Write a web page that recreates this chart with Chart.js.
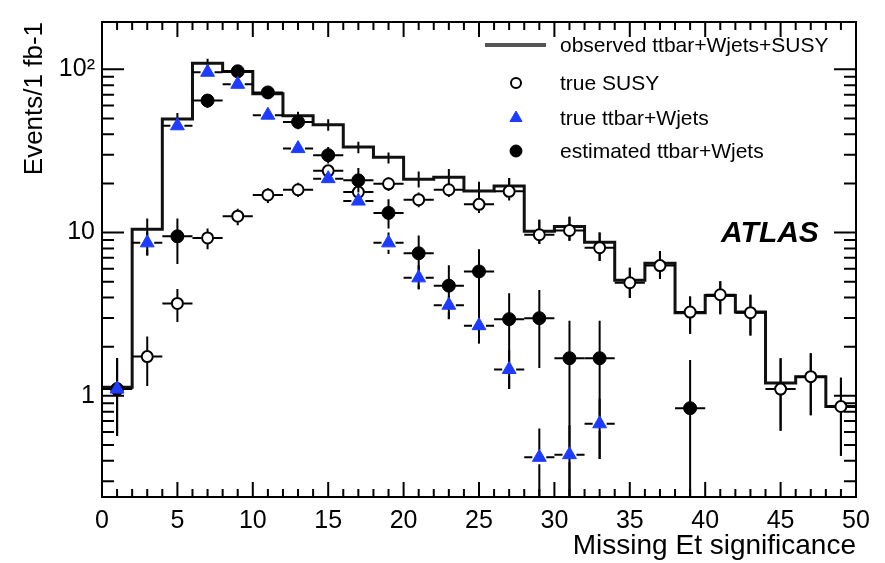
<!DOCTYPE html>
<html>
<head>
<meta charset="utf-8">
<script src="https://cdn.jsdelivr.net/npm/chart.js@4.4.1/dist/chart.umd.min.js"></script>
<style>
  html, body { margin: 0; padding: 0; background: #fff; }
</style>
</head>
<body>
<canvas id="chart" width="885" height="563"></canvas>
<script>
// bin centres of the Missing Et significance histogram (bin width 2)
const binCenters = [1, 3, 5, 7, 9, 11, 13, 15, 17, 19, 21, 23, 25, 27, 29, 31, 33, 35, 37, 39, 41, 43, 45, 47, 49];
const binHalfWidth = 1;

// observed ttbar+Wjets+SUSY (histogram)
const observed   = [1.13, 10.5, 49.6, 109, 97, 71, 52, 45.7, 33.4, 28.9, 21.2, 21.8, 18.0, 19.3, 10.2, 10.9, 8.74, 5.11, 6.49, 3.23, 4.12, 3.26, 1.20, 1.31, 0.86];
const observedHi = [1.7, 12.2, 54, 116, 104, 77, 55, 49.5, 36, 31, 23.7, 24.5, 20.5, 21.6, 12, 12.5, 10, 6.1, 7.7, 4.06, 5.04, 4.16, 1.7, 1.82, 1.29];
const observedLo = [0.57, 7.2, 45, 102, 90, 66, 48.5, 42, 30.6, 26.5, 18.9, 19.7, 15.7, 16.5, 8.5, 8.9, 6.7, 3.97, 5.2, 2.4, 3.16, 2.34, 0.61, 0.76, 0.43];

// true SUSY (open circles)
const trueSusy   = [null, 1.74, 3.68, 9.27, 12.6, 17.0, 18.3, 23.9, 17.7, 19.9, 15.9, 18.3, 14.9, 17.9, 9.7, 10.3, 8.08, 4.93, 6.28, 3.26, 4.16, 3.23, 1.10, 1.31, 0.86];
const trueSusyHi = [null, 2.31, 4.52, 10.6, 14.0, 18.7, 20.2, 26, 19.5, 21.8, 17.6, 20.1, 16.5, 21.6, 12, 12.5, 10, 6.1, 7.7, 4.06, 5.04, 4.16, 1.7, 1.82, 1.29];
const trueSusyLo = [null, 1.15, 2.83, 7.9, 11.1, 15.2, 16.5, 21.8, 16, 18, 14.3, 16.5, 13.2, 15.7, 8.5, 8.9, 6.7, 3.97, 5.2, 2.4, 3.16, 2.34, 0.61, 0.76, 0.43];

// true ttbar+Wjets (blue triangles)
const trueTtbar   = [1.10, 8.65, 45.1, 96, 81, 52.4, 32.7, 21.4, 15.6, 8.65, 5.28, 3.59, 2.69, 1.45, 0.42, 0.436, 0.674, null, null, null, null, null, null, null, null];
const trueTtbarHi = [1.7, 10, 49, 102, 86, 56, 35, 23, 17.2, 10, 6.3, 4.07, 3.4, 1.9, 0.63, 0.66, 0.96, null, null, null, null, null, null, null, null];
const trueTtbarLo = [0.57, 7.3, 41, 90, 76, 49, 30.5, 19.8, 14.2, 7.4, 4.5, 2.96, 2.1, 1.1, 0.2, 0.2, 0.41, null, null, null, null, null, null, null, null];

// estimated ttbar+Wjets (filled circles)
const estTtbar   = [1.1, null, 9.49, 64.4, 97.3, 72.2, 47.6, 29.8, 20.9, 13.2, 7.47, 4.73, 5.78, 2.95, 2.99, 1.70, 1.70, null, null, 0.84, null, null, null, null, null];
const estTtbarHi = [1.7, null, 12.2, 70, 104, 77, 52, 33.5, 24.9, 16, 9.6, 6.3, 7.9, 4.25, 4.45, 2.88, 2.88, null, null, 1.66, null, null, null, null, null];
const estTtbarLo = [0.57, null, 6.43, 58, 90, 66, 43, 26.5, 17.6, 10.6, 4.5, 2.95, 2.09, 1.1, 1.48, 0.1, 0.41, null, null, 0.1, null, null, null, null, null];

const xTickValues = [0, 5, 10, 15, 20, 25, 30, 35, 40, 45, 50];
const yTickValues = [1, 10, 100];
const yTickLabels = ['1', '10', '10\u00B2'];

const FONT = '"Liberation Sans", Arial, Helvetica, sans-serif';
const BLUE = '#1e3cff';

function points(values) {
    return binCenters.map((c, i) => ({ x: c, y: values[i] }));
}

// histogram drawn as steps through the bin edges
const histPoints = binCenters.map((c, i) => ({ x: c - binHalfWidth, y: observed[i] }));
histPoints.push({ x: binCenters[binCenters.length - 1] + binHalfWidth, y: observed[observed.length - 1] });

// error bars, drawn just before each dataset's markers
const errorBars = {
    id: 'errorBars',
    beforeDatasetDraw(chart, args) {
        const ds = chart.data.datasets[args.index];
        if (!ds.errHi) return;
        const xs = chart.scales.x, ys = chart.scales.y, ctx = chart.ctx;
        const area = chart.chartArea;
        ctx.save();
        ctx.beginPath();
        ctx.rect(area.left, area.top, area.right - area.left, area.bottom - area.top);
        ctx.clip();
        ctx.strokeStyle = '#000';
        ctx.lineWidth = 2;
        const gap = ds.errGap || 0;
        ds.data.forEach((p, i) => {
            if (p.y == null) return;
            const px = xs.getPixelForValue(p.x);
            const py = ys.getPixelForValue(p.y);
            const yh = ys.getPixelForValue(ds.errHi[i]);
            const yl = ys.getPixelForValue(ds.errLo[i]);
            ctx.beginPath();
            if (!ds.noXErr) {
                const xl = xs.getPixelForValue(p.x - binHalfWidth);
                const xr = xs.getPixelForValue(p.x + binHalfWidth);
                ctx.moveTo(xl, py); ctx.lineTo(px - gap, py);
                ctx.moveTo(px + gap, py); ctx.lineTo(xr, py);
            }
            if (yh < py - gap) { ctx.moveTo(px, yh); ctx.lineTo(px, py - gap); }
            if (yl > py + gap) { ctx.moveTo(px, py + gap); ctx.lineTo(px, yl); }
            ctx.stroke();
        });
        ctx.restore();
    }
};

// frame, inner ticks, legend and ATLAS label
const rootFrame = {
    id: 'rootFrame',
    afterDraw(chart) {
        const ctx = chart.ctx, a = chart.chartArea;
        const xs = chart.scales.x, ys = chart.scales.y;
        ctx.save();
        ctx.strokeStyle = '#000';
        ctx.lineWidth = 2;
        ctx.strokeRect(a.left, a.top, a.right - a.left, a.bottom - a.top);

        ctx.beginPath();
        for (let v = xs.min; v <= xs.max; v += 1) {
            const px = xs.getPixelForValue(v);
            const len = v % 5 === 0 ? 15 : 8;
            ctx.moveTo(px, a.bottom); ctx.lineTo(px, a.bottom - len);
            ctx.moveTo(px, a.top); ctx.lineTo(px, a.top + len);
        }
        for (let d = 0.1; d <= 100; d *= 10) {
            for (let m = 1; m <= 9; m++) {
                const v = d * m;
                if (v < ys.min || v > ys.max) continue;
                const py = ys.getPixelForValue(v);
                const len = m === 1 ? 22 : 12;
                ctx.moveTo(a.left, py); ctx.lineTo(a.left + len, py);
                ctx.moveTo(a.right, py); ctx.lineTo(a.right - len, py);
            }
        }
        ctx.stroke();

        // legend
        const ds = chart.data.datasets;
        ctx.font = '21px ' + FONT;
        ctx.fillStyle = '#000';
        ctx.textBaseline = 'middle';
        ctx.textAlign = 'left';
        ctx.strokeStyle = '#555';
        ctx.lineWidth = 4;
        ctx.beginPath(); ctx.moveTo(485, 45); ctx.lineTo(546, 45); ctx.stroke();
        ctx.fillText(ds[3].label, 560, 46);
        const rows = [[2, 83], [0, 118], [1, 151]];
        rows.forEach(([idx, y]) => {
            const d = ds[idx];
            ctx.fillStyle = d.backgroundColor; ctx.strokeStyle = d.borderColor; ctx.lineWidth = d.borderWidth;
            Chart.helpers.drawPoint(ctx, {
                pointStyle: d.pointStyle, radius: d.legendRadius, rotation: 0,
                borderWidth: d.borderWidth
            }, 516, y);
            ctx.fillStyle = '#000';
            ctx.fillText(d.label, 560, y + 1);
        });

        ctx.font = 'italic bold 30px ' + FONT;
        ctx.textAlign = 'center';
        ctx.fillText('ATLAS', 770, 234);
        ctx.restore();
    }
};

new Chart(document.getElementById('chart').getContext('2d'), {
    type: 'scatter',
    data: {
        datasets: [
            {
                label: 'true ttbar+Wjets',
                data: points(trueTtbar),
                errHi: trueTtbarHi, errLo: trueTtbarLo, errGap: 7,
                pointStyle: 'triangle', pointRadius: 8, legendRadius: 7,
                backgroundColor: BLUE, borderColor: BLUE, borderWidth: 1
            },
            {
                label: 'estimated ttbar+Wjets',
                data: points(estTtbar),
                errHi: estTtbarHi, errLo: estTtbarLo, errGap: 6,
                pointStyle: 'circle', pointRadius: 6.5, legendRadius: 6,
                backgroundColor: '#000', borderColor: '#000', borderWidth: 1
            },
            {
                label: 'true SUSY',
                data: points(trueSusy),
                errHi: trueSusyHi, errLo: trueSusyLo, errGap: 6,
                pointStyle: 'circle', pointRadius: 5.5, legendRadius: 5,
                backgroundColor: '#fff', borderColor: '#000', borderWidth: 2
            },
            {
                label: 'observed ttbar+Wjets+SUSY',
                type: 'line',
                data: histPoints,
                stepped: 'before',
                borderColor: '#111', borderWidth: 3, pointRadius: 0, fill: false
            },
            {
                label: 'observed errors',
                data: points(observed),
                errHi: observedHi, errLo: observedLo, errGap: 0, noXErr: true,
                pointRadius: 0
            }
        ]
    },
    options: {
        responsive: false,
        animation: false,
        devicePixelRatio: 1,
        layout: { padding: { top: 12, right: 29, left: 0, bottom: 0 } },
        plugins: { legend: { display: false }, tooltip: { enabled: false } },
        scales: {
            x: {
                type: 'linear', min: 0, max: 50,
                afterFit: s => { s.height = 66; },
                afterBuildTicks: axis => { axis.ticks = xTickValues.map(v => ({ value: v })); },
                grid: { display: false, drawTicks: false },
                border: { display: false },
                ticks: { color: '#000', font: { family: FONT, size: 25 }, padding: 9, maxRotation: 0, autoSkip: false },
                title: { display: true, text: 'Missing Et significance', align: 'end', color: '#000',
                         font: { family: FONT, size: 28 }, padding: { top: 0, bottom: 0 } }
            },
            y: {
                type: 'logarithmic', min: 0.24, max: 195,
                afterFit: s => { s.width = 102; },
                afterBuildTicks: axis => { axis.ticks = yTickValues.map(v => ({ value: v })); },
                grid: { display: false, drawTicks: false },
                border: { display: false },
                ticks: {
                    color: '#000', font: { family: FONT, size: 25 }, padding: 7,
                    callback: v => yTickLabels[yTickValues.indexOf(v)]
                },
                title: { display: true, text: 'Events/1 fb-1', align: 'end', color: '#000',
                         font: { family: FONT, size: 26 }, padding: { top: 19, bottom: 0 } }
            }
        }
    },
    plugins: [errorBars, rootFrame]
});
</script>
</body>
</html>
